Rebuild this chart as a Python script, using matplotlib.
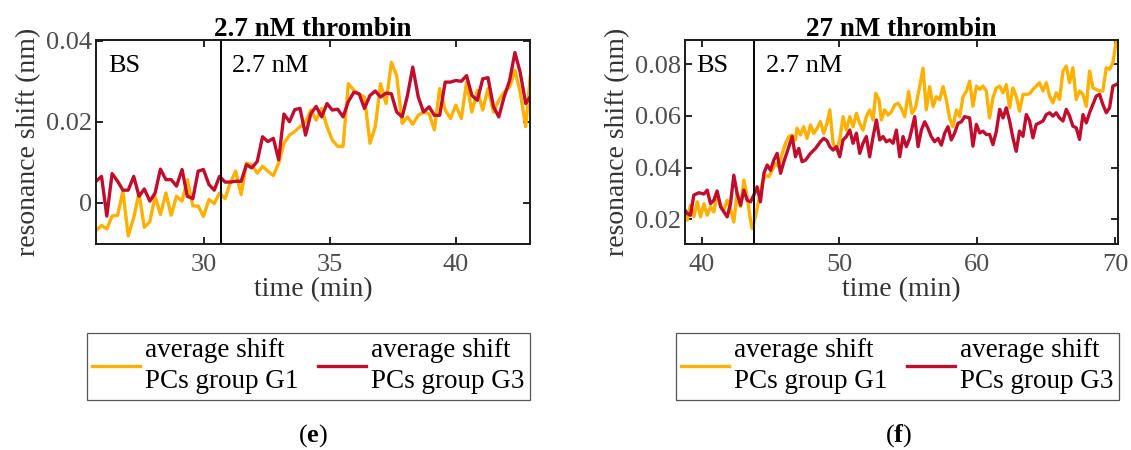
import numpy as np
import matplotlib
matplotlib.use("Agg")
import matplotlib.pyplot as plt

plt.rcParams["font.family"] = ["Liberation Serif", "DejaVu Serif"]
plt.rcParams["mathtext.fontset"] = "custom"
plt.rcParams["mathtext.rm"] = "Liberation Serif"
plt.rcParams["mathtext.bf"] = "Liberation Serif:bold"

# ---- panel (e): 2.7 nM thrombin ----
time_e = [25.70, 25.92, 26.13, 26.34, 26.56, 26.77, 26.98, 27.20, 27.41, 27.62,
          27.84, 28.05, 28.26, 28.48, 28.69, 28.90, 29.12, 29.33, 29.55, 29.76,
          29.97, 30.19, 30.40, 30.61, 30.83, 31.04, 31.25, 31.47, 31.68, 31.89,
          32.11, 32.32, 32.53, 32.75, 32.96, 33.17, 33.39, 33.60, 33.81, 34.03,
          34.24, 34.45, 34.67, 34.88, 35.09, 35.31, 35.52, 35.73, 35.95, 36.16,
          36.37, 36.59, 36.80, 37.01, 37.23, 37.44, 37.65, 37.87, 38.08, 38.29,
          38.51, 38.72, 38.94, 39.15, 39.36, 39.58, 39.79, 40.00, 40.22, 40.43,
          40.64, 40.86, 41.07, 41.28, 41.50, 41.71, 41.92, 42.14, 42.35, 42.56,
          42.78, 42.99]
g1_e = [-0.0069, -0.0056, -0.0065, -0.0033, -0.0031, 0.0029, -0.0082, -0.0037, 0.0024, -0.0061,
        -0.0047, 0.0016, -0.0029, 0.0024, -0.0031, 0.0016, 0.0004, 0.0057, -0.0008, -0.0008,
        -0.0034, 0.0008, -0.0002, 0.0024, 0.0010, 0.0049, 0.0078, 0.0020, 0.0098, 0.0094,
        0.0073, 0.0090, 0.0078, 0.0067, 0.0098, 0.0147, 0.0167, 0.0176, 0.0188, 0.0200,
        0.0229, 0.0204, 0.0233, 0.0188, 0.0155, 0.0139, 0.0139, 0.0294, 0.0278, 0.0268,
        0.0261, 0.0147, 0.0188, 0.0294, 0.0245, 0.0347, 0.0314, 0.0196, 0.0212, 0.0194,
        0.0216, 0.0224, 0.0220, 0.0180, 0.0282, 0.0229, 0.0208, 0.0241, 0.0208, 0.0298,
        0.0224, 0.0278, 0.0229, 0.0282, 0.0224, 0.0253, 0.0273, 0.0286, 0.0327, 0.0273,
        0.0188, 0.0331]
g3_e = [0.0053, 0.0065, -0.0033, 0.0072, 0.0053, 0.0031, 0.0031, 0.0065, 0.0016, 0.0034,
        0.0004, 0.0024, 0.0083, 0.0057, 0.0057, 0.0041, 0.0082, 0.0016, 0.0010, 0.0078,
        0.0082, 0.0045, 0.0031, 0.0065, 0.0051, 0.0051, 0.0053, 0.0053, 0.0094, 0.0086,
        0.0102, 0.0163, 0.0151, 0.0159, 0.0106, 0.0219, 0.0200, 0.0230, 0.0233, 0.0167,
        0.0220, 0.0238, 0.0212, 0.0245, 0.0229, 0.0231, 0.0212, 0.0250, 0.0273, 0.0269,
        0.0233, 0.0265, 0.0276, 0.0261, 0.0271, 0.0269, 0.0224, 0.0212, 0.0265, 0.0335,
        0.0261, 0.0224, 0.0237, 0.0216, 0.0216, 0.0298, 0.0298, 0.0302, 0.0300, 0.0314,
        0.0265, 0.0253, 0.0306, 0.0309, 0.0237, 0.0212, 0.0261, 0.0302, 0.0371, 0.0322,
        0.0245, 0.0265]
inject_e = 30.66

# ---- panel (f): 27 nM thrombin ----
time_g1_f = [38.72, 38.96, 39.20, 39.44, 39.69, 39.93, 40.17, 40.41, 40.65, 40.89,
             41.13, 41.38, 41.62, 41.86, 42.10, 42.34, 42.58, 42.83, 43.07, 43.31,
             43.55, 43.67, 43.91, 44.15, 44.40, 44.64, 44.88, 45.12, 45.36, 45.60,
             45.85, 46.09, 46.33, 46.57, 46.81, 46.93, 47.17, 47.41, 47.65, 47.90,
             48.14, 48.38, 48.62, 48.86, 49.10, 49.30, 49.54, 49.78, 50.02, 50.26,
             50.50, 50.75, 50.99, 51.23, 51.47, 51.71, 51.95, 52.19, 52.44, 52.63,
             52.87, 53.04, 53.28, 53.52, 53.77, 54.01, 54.25, 54.49, 54.73, 55.02,
             55.26, 55.50, 55.77, 56.06, 56.30, 56.54, 56.79, 57.03, 57.27, 57.51,
             57.75, 57.99, 58.23, 58.48, 58.72, 58.96, 59.20, 59.44, 59.68, 59.93,
             60.17, 60.41, 60.65, 60.89, 61.13, 61.38, 61.62, 61.86, 62.10, 62.34,
             62.58, 62.82, 63.06, 63.31, 63.55, 63.79, 64.03, 64.27, 64.51, 64.76,
             65.00, 65.24, 65.48, 65.72, 65.96, 66.21, 66.45, 66.69, 66.93, 67.17,
             67.41, 67.66, 67.90, 68.14, 68.38, 68.62, 68.86, 69.10, 69.35, 69.59,
             69.83, 70.07]
g1_f = [0.0236, 0.0197, 0.0255, 0.0210, 0.0268, 0.0210, 0.0261, 0.0216, 0.0249, 0.0229,
        0.0300, 0.0255, 0.0236, 0.0274, 0.0242, 0.0190, 0.0300, 0.0249, 0.0352, 0.0287,
        0.0197, 0.0165, 0.0210, 0.0274, 0.0339, 0.0371, 0.0365, 0.0390, 0.0416, 0.0403,
        0.0455, 0.0494, 0.0520, 0.0526, 0.0507, 0.0552, 0.0526, 0.0558, 0.0513, 0.0565,
        0.0532, 0.0552, 0.0578, 0.0532, 0.0571, 0.0623, 0.0494, 0.0468, 0.0507, 0.0597,
        0.0545, 0.0597, 0.0558, 0.0610, 0.0571, 0.0545, 0.0597, 0.0623, 0.0584, 0.0687,
        0.0662, 0.0584, 0.0623, 0.0603, 0.0616, 0.0642, 0.0649, 0.0629, 0.0597, 0.0694,
        0.0610, 0.0629, 0.0700, 0.0784, 0.0623, 0.0713, 0.0636, 0.0674, 0.0662, 0.0713,
        0.0662, 0.0590, 0.0558, 0.0623, 0.0597, 0.0674, 0.0694, 0.0734, 0.0637, 0.0715,
        0.0702, 0.0715, 0.0696, 0.0592, 0.0670, 0.0708, 0.0715, 0.0689, 0.0721, 0.0631,
        0.0708, 0.0676, 0.0618, 0.0683, 0.0683, 0.0685, 0.0702, 0.0715, 0.0728, 0.0696,
        0.0728, 0.0676, 0.0650, 0.0689, 0.0663, 0.0773, 0.0792, 0.0728, 0.0786, 0.0663,
        0.0696, 0.0683, 0.0637, 0.0773, 0.0708, 0.0702, 0.0696, 0.0696, 0.0786, 0.0780,
        0.0805, 0.0889]
time_g3_f = [38.72, 38.96, 39.20, 39.44, 39.81, 40.17, 40.41, 40.65, 40.89, 41.13,
             41.38, 41.62, 41.86, 42.10, 42.34, 42.58, 42.83, 43.07, 43.31, 43.55,
             43.79, 44.03, 44.27, 44.52, 44.76, 45.00, 45.24, 45.48, 45.73, 45.97,
             46.21, 46.57, 46.81, 47.05, 47.29, 47.54, 47.90, 48.26, 48.62, 48.86,
             49.10, 49.30, 49.54, 49.78, 50.02, 50.26, 50.50, 50.75, 50.99, 51.23,
             51.47, 51.71, 51.95, 52.19, 52.44, 52.68, 52.92, 53.16, 53.40, 53.64,
             53.89, 54.13, 54.37, 54.61, 54.85, 55.09, 55.46, 55.70, 55.94, 56.18,
             56.42, 56.66, 56.90, 57.15, 57.39, 57.63, 57.87, 58.11, 58.35, 58.60,
             58.84, 59.08, 59.44, 59.68, 59.93, 60.17, 60.41, 60.65, 60.89, 61.13,
             61.38, 61.62, 61.86, 62.10, 62.34, 62.58, 62.82, 63.06, 63.31, 63.55,
             63.79, 64.03, 64.27, 64.51, 64.76, 65.00, 65.24, 65.48, 65.72, 65.96,
             66.21, 66.45, 66.69, 66.93, 67.17, 67.41, 67.66, 67.90, 68.14, 68.38,
             68.62, 68.86, 69.10, 69.35, 69.59, 69.83, 70.07]
g3_f = [0.0242, 0.0223, 0.0216, 0.0294, 0.0303, 0.0298, 0.0313, 0.0261, 0.0274, 0.0310,
        0.0249, 0.0229, 0.0210, 0.0261, 0.0371, 0.0300, 0.0255, 0.0313, 0.0274, 0.0268,
        0.0294, 0.0326, 0.0268, 0.0378, 0.0410, 0.0390, 0.0429, 0.0455, 0.0378, 0.0423,
        0.0461, 0.0520, 0.0442, 0.0474, 0.0423, 0.0429, 0.0455, 0.0474, 0.0500, 0.0513,
        0.0504, 0.0481, 0.0468, 0.0481, 0.0442, 0.0507, 0.0520, 0.0545, 0.0494, 0.0533,
        0.0455, 0.0494, 0.0520, 0.0442, 0.0520, 0.0584, 0.0507, 0.0520, 0.0500, 0.0507,
        0.0494, 0.0545, 0.0442, 0.0520, 0.0481, 0.0513, 0.0597, 0.0481, 0.0545, 0.0577,
        0.0552, 0.0520, 0.0500, 0.0513, 0.0487, 0.0533, 0.0558, 0.0507, 0.0533, 0.0571,
        0.0577, 0.0597, 0.0592, 0.0483, 0.0567, 0.0534, 0.0541, 0.0528, 0.0528, 0.0489,
        0.0541, 0.0625, 0.0592, 0.0631, 0.0580, 0.0515, 0.0463, 0.0541, 0.0521, 0.0605,
        0.0580, 0.0515, 0.0567, 0.0573, 0.0580, 0.0605, 0.0612, 0.0599, 0.0612, 0.0592,
        0.0580, 0.0625, 0.0599, 0.0560, 0.0554, 0.0509, 0.0605, 0.0573, 0.0612, 0.0644,
        0.0676, 0.0683, 0.0644, 0.0612, 0.0631, 0.0715, 0.0721]
inject_f = 43.77

xticks_e = [30, 35, 40]
yticks_e = [0, 0.02, 0.04]
xticks_f = [40, 50, 60, 70]
yticks_f = [0.02, 0.04, 0.06, 0.08]

labels = ["average shift\nPCs group G1", "average shift\nPCs group G3"]

GOLD = "#FFB000"
CRIMSON = "#C00D2E"
TICK_GRAY = "#4D4D4D"
LABEL_GRAY = "#333333"
W, H = 1131, 450


def fmt(v):
    return "0" if v == 0 else f"{v:.2f}"


def draw_panel(ax, t1, y1, t3, y3, t_inj, title, xlim, ylim, xticks, yticks):
    l1, = ax.plot(t1, y1, color=GOLD, lw=2.4)
    l3, = ax.plot(t3, y3, color=CRIMSON, lw=2.4)
    ax.axvline(t_inj, color="black", lw=1.4)
    ax.set_xlim(*xlim)
    ax.set_ylim(*ylim)
    ax.set_xticks(xticks)
    ax.set_yticks(yticks)
    ax.set_yticklabels([fmt(v) for v in yticks])
    ax.tick_params(direction="in", length=5, width=1.2, top=True, right=True,
                   labelsize=19, labelcolor=TICK_GRAY, pad=3)
    ax.tick_params(axis="x", pad=7)
    for s in ax.spines.values():
        s.set_linewidth(1.4)
        s.set_color("#1a1a1a")
    ax.set_title(title, fontsize=19.5, fontweight="bold", pad=3)
    ax.set_xlabel("time (min)", fontsize=20, color=LABEL_GRAY, labelpad=1)
    ax.set_ylabel("resonance shift (nm)", fontsize=20, color=LABEL_GRAY, labelpad=3)
    return l1, l3


fig = plt.figure(figsize=(W / 100, H / 100), dpi=100)
ax_e = fig.add_axes([96 / W, 206 / H, 434 / W, 204 / H])
ax_f = fig.add_axes([685 / W, 206 / H, 433 / W, 204 / H])

handles_e = draw_panel(ax_e, time_e, g1_e, time_e, g3_e, inject_e, "2.7 nM thrombin",
                       (25.70, 42.95), (-0.0102, 0.0402), xticks_e, yticks_e)
handles_f = draw_panel(ax_f, time_g1_f, g1_f, time_g3_f, g3_f, inject_f, "27 nM thrombin",
                       (38.8, 70.2), (0.0105, 0.0893), xticks_f, yticks_f)

ax_e.text(0.028, 0.875, "BS", transform=ax_e.transAxes, fontsize=19, va="center")
ax_e.text(0.313, 0.875, "2.7 nM", transform=ax_e.transAxes, fontsize=19, va="center")
ax_f.text(0.027, 0.875, "BS", transform=ax_f.transAxes, fontsize=19, va="center")
ax_f.text(0.186, 0.875, "2.7 nM", transform=ax_f.transAxes, fontsize=19, va="center")

for ax, handles, x0 in [(ax_e, handles_e, 87), (ax_f, handles_f, 676)]:
    leg = ax.legend(handles, labels, ncol=2, loc="upper left",
                    bbox_to_anchor=(x0 / W, 48 / H, 443 / W, 69 / H),
                    bbox_transform=fig.transFigure, mode="expand", borderaxespad=0,
                    fancybox=False, edgecolor="#555555", framealpha=1, fontsize=19.5,
                    handlelength=1.75, handletextpad=0.2, borderpad=0.2,
                    labelspacing=0, columnspacing=0.5)
    leg.get_frame().set_linewidth(0.9)
    for t in leg.get_texts():
        t.set_linespacing(1.3)

fig.text(313 / W, 1 - 436 / H, r"($\mathbf{e}$)", fontsize=19, ha="center", va="center")
fig.text(899 / W, 1 - 436 / H, r"($\mathbf{f}$)", fontsize=19, ha="center", va="center")

fig.savefig("out.png", dpi=100)
